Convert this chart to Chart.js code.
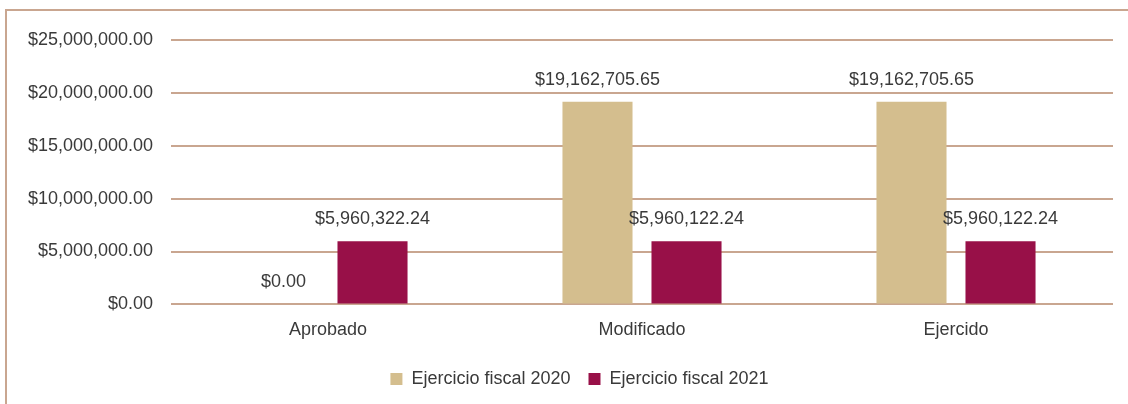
<!DOCTYPE html>
<html><head><meta charset="utf-8">
<script src="https://cdn.jsdelivr.net/npm/chart.js@4"></script>
<style>
html,body{margin:0;padding:0;background:#fff;}
#wrap{position:relative;width:1128px;height:404px;}
#frame{position:absolute;left:5px;top:9px;width:1123px;height:395px;border-left:2px solid #c9a690;border-top:2px solid #c9a690;box-sizing:border-box;}
canvas{position:absolute;left:0;top:0;}
</style></head>
<body>
<div id="wrap"><div id="frame"></div><canvas id="c" width="1128" height="404"></canvas></div>
<script>
const categories = ["Aprobado", "Modificado", "Ejercido"];
const seriesNames = ["Ejercicio fiscal 2020", "Ejercicio fiscal 2021"];
const values2020 = [0, 19162705.65, 19162705.65];
const values2021 = [5960322.24, 5960122.24, 5960122.24];
const yTicks = [0, 5000000, 10000000, 15000000, 20000000, 25000000];

const fmt = v => "$" + v.toLocaleString("en-US", {minimumFractionDigits: 2, maximumFractionDigits: 2});
const FONT = "'Liberation Sans', Arial, sans-serif";
const TXT = "#3a3a3a";

const valueLabels = {
  id: "valueLabels",
  afterLayout(chart) {
    if (chart.legend) chart.legend.left += 46;
  },
  afterDatasetsDraw(chart) {
    const ctx = chart.ctx;
    ctx.save();
    ctx.font = "18px " + FONT;
    ctx.fillStyle = TXT;
    ctx.textAlign = "center";
    ctx.textBaseline = "middle";
    chart.data.datasets.forEach((ds, i) => {
      chart.getDatasetMeta(i).data.forEach((bar, j) => {
        ctx.fillText(fmt(ds.data[j]), bar.x, bar.y - 22);
      });
    });
    ctx.restore();
  }
};

new Chart(document.getElementById("c"), {
  type: "bar",
  data: {
    labels: categories,
    datasets: [
      {label: seriesNames[0], data: values2020, backgroundColor: "#d4be8e"},
      {label: seriesNames[1], data: values2021, backgroundColor: "#981048"}
    ]
  },
  options: {
    responsive: false,
    animation: false,
    devicePixelRatio: 1,
    categoryPercentage: 0.567,
    barPercentage: 0.787,
    layout: {padding: {top: 40, right: 15, bottom: 6, left: 0}},
    plugins: {
      tooltip: {enabled: false},
      legend: {
        position: "bottom",
        labels: {font: {size: 18, family: FONT}, color: TXT, boxWidth: 12, boxHeight: 12, padding: 18}
      }
    },
    scales: {
      x: {
        afterFit: s => { s.height -= 4; },
        grid: {display: false, drawTicks: false},
        border: {display: false},
        ticks: {font: {size: 18, family: FONT}, color: TXT, padding: 15}
      },
      y: {
        min: 0, max: 25000000,
        afterBuildTicks: s => { s.ticks = yTicks.map(v => ({value: v})); },
        afterFit: s => { s.width = 171; },
        grid: {color: "#c9a690", lineWidth: 2, drawTicks: false},
        border: {display: false},
        ticks: {font: {size: 18, family: FONT}, color: TXT, padding: 18, callback: v => fmt(v)}
      }
    }
  },
  plugins: [valueLabels]
});
</script>
</body></html>
